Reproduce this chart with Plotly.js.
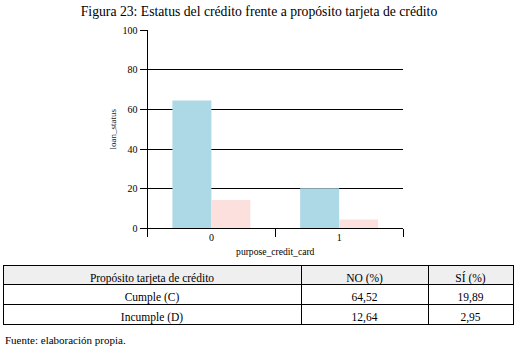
<!DOCTYPE html>
<html>
<head>
<meta charset="utf-8">
<script src="https://cdn.plot.ly/plotly-3.0.1.min.js"></script>
<style>html,body{margin:0;padding:0;background:#fff;}#chart{width:518px;height:352px;}</style>
</head>
<body>
<div id="chart"></div>
<script>
// Chart data
const categories = ['0', '1'];
const cumpleValues = [64.5, 20.2];
const incumpleValues = [14.3, 4.5];
const yTickVals = [0, 20, 40, 60, 80, 100];

// Table data
const tableHeader = ['Propósito tarjeta de crédito', 'NO (%)', 'SÍ (%)'];
const rowLabels = ['Cumple (C)', 'Incumple (D)'];
const noValues = ['64,52', '12,64'];
const siValues = ['19,89', '2,95'];

const W = 518, H = 352;
const serif = 'Liberation Serif';

const traces = [
  {type: 'bar', x: categories, y: cumpleValues, name: 'Cumple (C)',
   marker: {color: '#add8e6'}, hoverinfo: 'none'},
  {type: 'bar', x: categories, y: incumpleValues, name: 'Incumple (D)',
   marker: {color: '#fbe0dd'}, hoverinfo: 'none'},
  {type: 'table',
   domain: {x: [3 / W, 513 / W], y: [1 - 326 / H, 1 - 265 / H]},
   columnwidth: [298, 127, 85],
   header: {values: tableHeader, align: 'center', height: 19,
            fill: {color: '#efefef'}, line: {color: '#000', width: 1},
            font: {family: serif, size: 11.5, color: '#000'}},
   cells: {values: [rowLabels, noValues, siValues], align: 'center', height: 20,
           fill: {color: '#fff'}, line: {color: '#000', width: 1},
           font: {family: serif, size: 11.5, color: '#000'}}
  }
];

const layout = {
  width: W, height: H,
  margin: {l: 0, r: 0, t: 0, b: 0},
  paper_bgcolor: '#fff', plot_bgcolor: '#fff',
  showlegend: false,
  barmode: 'group', bargap: 0.39, bargroupgap: 0,
  font: {family: serif, size: 10, color: '#000'},
  title: {text: 'Figura 23: Estatus del crédito frente a propósito tarjeta de crédito',
          font: {family: serif, size: 13.7, color: '#000'},
          x: 0.5, xanchor: 'center', xref: 'paper', yref: 'container', y: 1 - 11 / H, yanchor: 'middle'},
  xaxis: {domain: [147.5 / W, 403 / W], type: 'category', range: [-0.5, 1.5],
          showline: true, linecolor: '#000', linewidth: 1, zeroline: false, showgrid: false,
          ticks: 'outside', tickson: 'boundaries', ticklen: 8, tickcolor: '#000', tickwidth: 1,
          tickfont: {family: serif, size: 10, color: '#000'},
          title: {text: 'purpose_credit_card', font: {family: serif, size: 9.6, color: '#000'}, standoff: 5}},
  yaxis: {domain: [1 - 228.3 / H, 1 - 30.3 / H], range: [0, 100],
          tickvals: yTickVals, ticktext: yTickVals.map(String),
          showline: true, linecolor: '#000', linewidth: 1, zeroline: false,
          showgrid: true, gridcolor: '#000', gridwidth: 1,
          ticks: 'outside', ticklen: 7, tickcolor: '#000', tickwidth: 1,
          tickfont: {family: serif, size: 10, color: '#000'},
          title: {text: 'loan_status', font: {family: serif, size: 9, color: '#222'}, standoff: 4}},
  annotations: [
    {text: 'Fuente: elaboración propia.', xref: 'paper', yref: 'paper',
     x: 3 / W, y: 1 - 340 / H, xanchor: 'left', yanchor: 'middle', showarrow: false,
     font: {family: serif, size: 11, color: '#000'}}
  ]
};

Plotly.newPlot('chart', traces, layout, {displayModeBar: false, staticPlot: true});
</script>
</body>
</html>
